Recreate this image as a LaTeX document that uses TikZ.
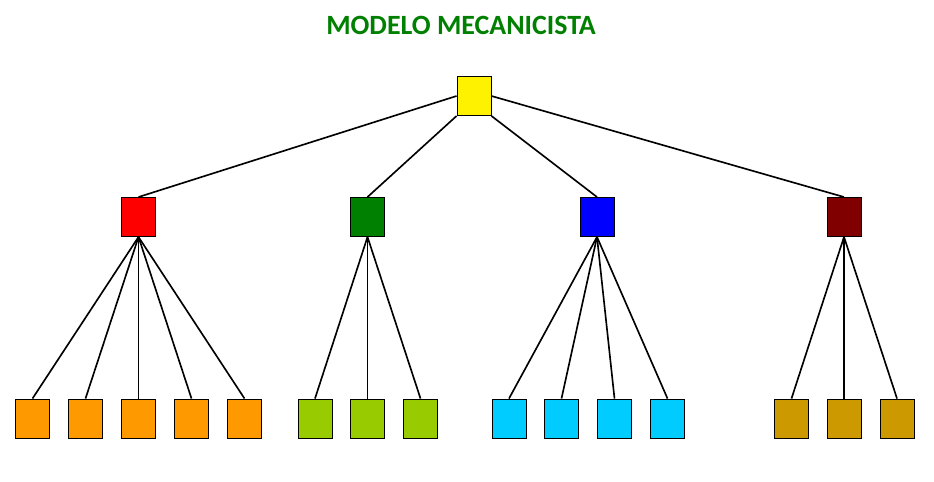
\documentclass[tikz,border=0pt]{standalone}
\usepackage{fontspec}
\setmainfont{Carlito}
\definecolor{titlegreen}{HTML}{008000}
\definecolor{cOrange}{HTML}{FF9900}
\definecolor{cLime}{HTML}{99CC00}
\definecolor{cSky}{HTML}{00CCFF}
\definecolor{cGold}{HTML}{CC9900}
\definecolor{cMaroon}{HTML}{800000}
\tikzset{
  box/.style={draw=black,line width=0.8pt,minimum width=1.02cm,minimum height=1.17cm,inner sep=0pt},
  link/.style={black,line width=1.4pt}
}
\begin{document}
\begin{tikzpicture}[x=0.03cm,y=-0.03cm]
\useasboundingbox (0,0) rectangle (934,482);

\node[] (title) at (461,25) {\fontsize{23.8}{28}\selectfont\bfseries\color{titlegreen} MODELO MECANICISTA};

%---------------------------------------------------
\node[box,fill=yellow] (top) at (474,96) {};

\node[box,fill=red]     (red)    at (138.5,217) {};
\node[box,fill=titlegreen] (green)  at (367.5,217) {};
\node[box,fill=blue]    (blue)   at (597,217) {};
\node[box,fill=cMaroon] (maroon) at (844,217) {};

%--------------------------------------------------
\node[box,fill=cOrange] (r1) at (32.5,418.5) {};
\node[box,fill=cOrange] (r2) at (85.5,418.5) {};
\node[box,fill=cOrange] (r3) at (138.5,418.5) {};
\node[box,fill=cOrange] (r4) at (191.5,418.5) {};
\node[box,fill=cOrange] (r5) at (244.5,418.5) {};

\node[box,fill=cLime] (g1) at (315,418.5) {};
\node[box,fill=cLime] (g2) at (367.5,418.5) {};
\node[box,fill=cLime] (g3) at (420.5,418.5) {};

\node[box,fill=cSky] (b1) at (509,418.5) {};
\node[box,fill=cSky] (b2) at (561.5,418.5) {};
\node[box,fill=cSky] (b3) at (614.5,418.5) {};
\node[box,fill=cSky] (b4) at (667.5,418.5) {};

\node[box,fill=cGold] (m1) at (791.5,418.5) {};
\node[box,fill=cGold] (m2) at (844,418.5) {};
\node[box,fill=cGold] (m3) at (897,418.5) {};

%------------------------------------------------
\draw[link] (top.west) -- (red.north);
\draw[link] (top.south west) -- (green.north);
\draw[link] (top.south east) -- (blue.north);
\draw[link] (top.east) -- (maroon.north);

\draw[link] (red.south) -- (r1.north);
\draw[link] (red.south) -- (r2.north);
\draw[link] (red.south) -- (r3.north);
\draw[link] (red.south) -- (r4.north);
\draw[link] (red.south) -- (r5.north);

\draw[link] (green.south) -- (g1.north);
\draw[link] (green.south) -- (g2.north);
\draw[link] (green.south) -- (g3.north);

\draw[link] (blue.south) -- (b1.north);
\draw[link] (blue.south) -- (b2.north);
\draw[link] (blue.south) -- (b3.north);
\draw[link] (blue.south) -- (b4.north);

\draw[link] (maroon.south) -- (m1.north);
\draw[link] (maroon.south) -- (m2.north);
\draw[link] (maroon.south) -- (m3.north);
\end{tikzpicture}
\end{document}
